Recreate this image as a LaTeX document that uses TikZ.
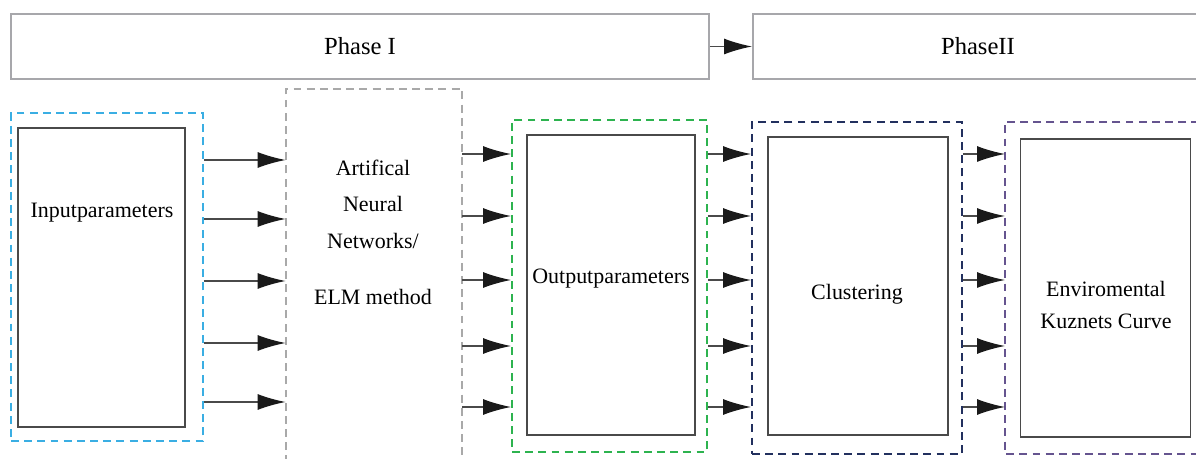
\documentclass[tikz,border=0pt]{standalone}
\usepackage{fontspec}
\setmainfont{Liberation Serif}
\usetikzlibrary{arrows.meta}
\definecolor{framegray}{HTML}{A7A7AB}
\definecolor{boxgray}{HTML}{4A4A4A}
\definecolor{tipblack}{HTML}{1A1A1A}
\definecolor{ingroupc}{HTML}{3AAEE3}
\definecolor{anngroupc}{HTML}{A9A9A9}
\definecolor{outgroupc}{HTML}{2DB34F}
\definecolor{clugroupc}{HTML}{22305E}
\definecolor{ekcgroupc}{HTML}{65548F}
\begin{document}
\begin{tikzpicture}[
    phase/.style={draw=framegray, line width=1.1pt, minimum height=1.3cm,
                  font=\fontsize{14}{17}\selectfont},
    group/.style={draw=#1, line width=1.1pt, dash pattern=on 4.5pt off 3pt},
    block/.style={draw=boxgray, line width=0.8pt, font=\fontsize{12.5}{15}\selectfont, align=center},
    txt/.style={font=\fontsize{12.5}{15}\selectfont, align=center},
    arr/.style={-{Latex[length=5.6mm, width=3.2mm, color=tipblack]}, draw=boxgray, line width=0.8pt},
  ]
    \useasboundingbox (0,0) rectangle (23.92,9.18);
    \node[phase, minimum width=13.96cm] (phaseone) at (7.2,8.25) {Phase I};
    \node[phase, minimum width=9cm, anchor=west] (phasetwo) at (15.04,8.25) {PhaseII};
    \draw[arr] (phaseone.east) -- (phasetwo.west);

    \node[group=ingroupc, minimum width=3.84cm, minimum height=6.56cm] (ingroup) at (2.14,3.64) {};
    \node[block, minimum width=3.34cm, minimum height=5.98cm] (inbox) at (2.03,3.63) {};
    \node[txt] (intext) at (2.04,4.92) {Inputparameters};

    \node[minimum width=3.52cm, minimum height=8cm, anchor=north] (annbox) at (7.48,7.4) {};
    \draw[group=anngroupc] (annbox.south west) |- (annbox.north east) -- (annbox.south east);
    \node[txt] (anntext) at (7.46,4.53) {Artifical\\[0.2cm]Neural\\[0.2cm]Networks/\\[0.6cm]ELM method};

    \node[group=outgroupc, minimum width=3.9cm, minimum height=6.64cm] (outgroup) at (12.19,3.46) {};
    \node[block, minimum width=3.36cm, minimum height=6cm] (outbox) at (12.22,3.48) {};
    \node[txt] (outtext) at (12.22,3.6) {Outputparameters};

    \node[group=clugroupc, minimum width=4.2cm, minimum height=6.64cm] (clugroup) at (17.14,3.42) {};
    \node[block, minimum width=3.6cm, minimum height=5.96cm] (clubox) at (17.16,3.46) {};
    \node[txt] (clutext) at (17.14,3.3) {Clustering};

    \node[minimum width=4.4cm, minimum height=6.62cm, anchor=north west] (ekcgroup) at (20.1,6.74) {};
    \draw[group=ekcgroupc] (ekcgroup.north east) -| (ekcgroup.south west) -- (ekcgroup.south east);
    \node[block, minimum width=3.4cm, minimum height=5.96cm] (ekcbox) at (22.11,3.42) {};
    \node[txt] (ekctext) at (22.12,3.08) {Enviromental\\[0.12cm]Kuznets Curve};

    \foreach \y in {5.98,4.8,3.56,2.32,1.14}
      \draw[arr] (ingroup.east |- 0,\y) -- (annbox.west |- 0,\y);
    \foreach \y in {6.1,4.86,3.58,2.26,1.04} {
      \draw[arr] (annbox.east |- 0,\y) -- (outgroup.west |- 0,\y);
      \draw[arr] (outgroup.east |- 0,\y) -- (clugroup.west |- 0,\y);
      \draw[arr] (clugroup.east |- 0,\y) -- (ekcgroup.west |- 0,\y);
    }
\end{tikzpicture}
\end{document}
